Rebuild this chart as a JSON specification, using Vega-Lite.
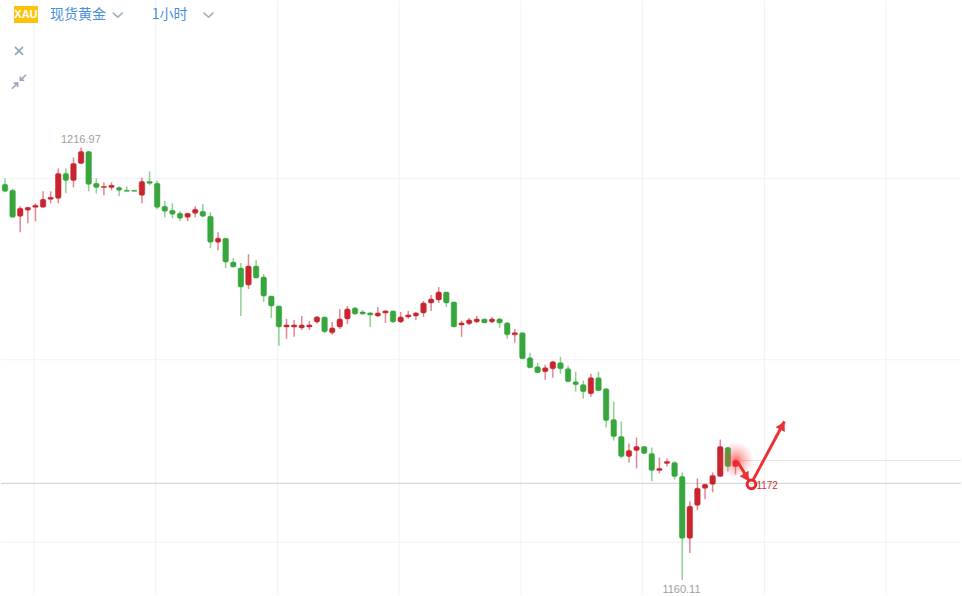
{
  "$schema": "https://vega.github.io/schema/vega-lite/v6.json",
  "description": "XAU spot gold 1 hour candlesticks with hand drawn arrow",
  "autosize": {"type": "fit", "contains": "padding"},
  "width": 962,
  "height": 596,
  "padding": 0,
  "background": "white",
  "view": {"stroke": null},
  "config": {"scale": {"continuousPadding": 0}},
  "datasets": {
    "candles": [
      {"i":0,"o":1212.13,"c":1211.21,"h":1212.91,"l":1211.08},
      {"i":1,"o":1211.34,"c":1207.80,"h":1211.60,"l":1207.80},
      {"i":2,"o":1207.93,"c":1208.98,"h":1209.24,"l":1205.84},
      {"i":3,"o":1208.72,"c":1209.11,"h":1209.11,"l":1207.02},
      {"i":4,"o":1209.11,"c":1209.37,"h":1209.64,"l":1207.28},
      {"i":5,"o":1209.11,"c":1210.16,"h":1211.21,"l":1209.11},
      {"i":6,"o":1210.16,"c":1210.42,"h":1211.21,"l":1209.64},
      {"i":7,"o":1210.29,"c":1213.57,"h":1214.22,"l":1209.64},
      {"i":8,"o":1213.57,"c":1212.65,"h":1214.22,"l":1210.95},
      {"i":9,"o":1212.65,"c":1214.88,"h":1215.66,"l":1211.73},
      {"i":10,"o":1214.88,"c":1216.45,"h":1216.97,"l":1214.88},
      {"i":11,"o":1216.45,"c":1212.13,"h":1216.45,"l":1211.21},
      {"i":12,"o":1212.26,"c":1211.73,"h":1212.91,"l":1210.95},
      {"i":13,"o":1211.73,"c":1211.86,"h":1212.39,"l":1210.69},
      {"i":14,"o":1211.73,"c":1212.00,"h":1212.39,"l":1211.34},
      {"i":15,"o":1211.73,"c":1211.34,"h":1211.86,"l":1210.55},
      {"i":16,"o":1211.34,"c":1211.21,"h":1211.86,"l":1211.21},
      {"i":17,"o":1211.34,"c":1211.21,"h":1211.34,"l":1211.21},
      {"i":18,"o":1210.69,"c":1212.52,"h":1213.04,"l":1209.64},
      {"i":19,"o":1212.52,"c":1212.26,"h":1213.83,"l":1212.00},
      {"i":20,"o":1212.26,"c":1209.11,"h":1212.65,"l":1208.85},
      {"i":21,"o":1209.24,"c":1208.59,"h":1209.90,"l":1207.80},
      {"i":22,"o":1208.72,"c":1208.20,"h":1209.64,"l":1207.67},
      {"i":23,"o":1208.33,"c":1207.67,"h":1208.59,"l":1207.28},
      {"i":24,"o":1207.80,"c":1208.33,"h":1208.33,"l":1207.28},
      {"i":25,"o":1208.33,"c":1208.85,"h":1209.24,"l":1207.80},
      {"i":26,"o":1208.59,"c":1207.93,"h":1209.51,"l":1207.80},
      {"i":27,"o":1207.93,"c":1204.53,"h":1208.46,"l":1203.74},
      {"i":28,"o":1204.53,"c":1205.05,"h":1205.84,"l":1203.48},
      {"i":29,"o":1205.05,"c":1201.91,"h":1205.05,"l":1201.12},
      {"i":30,"o":1201.91,"c":1201.25,"h":1202.43,"l":1201.25},
      {"i":31,"o":1201.12,"c":1198.63,"h":1201.78,"l":1194.83},
      {"i":32,"o":1198.90,"c":1201.38,"h":1202.96,"l":1198.37},
      {"i":33,"o":1201.38,"c":1199.81,"h":1202.17,"l":1199.81},
      {"i":34,"o":1199.94,"c":1197.45,"h":1200.34,"l":1196.67},
      {"i":35,"o":1197.45,"c":1196.14,"h":1197.45,"l":1194.57},
      {"i":36,"o":1196.14,"c":1193.39,"h":1196.14,"l":1190.90},
      {"i":37,"o":1193.39,"c":1193.65,"h":1194.44,"l":1191.82},
      {"i":38,"o":1193.39,"c":1193.65,"h":1194.31,"l":1192.08},
      {"i":39,"o":1193.26,"c":1193.65,"h":1194.83,"l":1193.00},
      {"i":40,"o":1193.39,"c":1193.65,"h":1194.18,"l":1193.00},
      {"i":41,"o":1194.05,"c":1194.70,"h":1194.83,"l":1193.79},
      {"i":42,"o":1194.70,"c":1192.74,"h":1194.70,"l":1192.61},
      {"i":43,"o":1192.61,"c":1193.26,"h":1194.05,"l":1192.35},
      {"i":44,"o":1193.39,"c":1194.44,"h":1195.75,"l":1193.13},
      {"i":45,"o":1194.44,"c":1195.75,"h":1196.14,"l":1193.79},
      {"i":46,"o":1195.88,"c":1195.10,"h":1196.01,"l":1194.97},
      {"i":47,"o":1195.36,"c":1195.10,"h":1195.62,"l":1194.97},
      {"i":48,"o":1195.23,"c":1194.97,"h":1195.36,"l":1193.39},
      {"i":49,"o":1194.83,"c":1195.23,"h":1196.01,"l":1194.70},
      {"i":50,"o":1195.23,"c":1195.49,"h":1195.62,"l":1193.92},
      {"i":51,"o":1195.49,"c":1194.05,"h":1195.49,"l":1193.92},
      {"i":52,"o":1194.05,"c":1194.70,"h":1195.36,"l":1193.92},
      {"i":53,"o":1194.70,"c":1194.97,"h":1195.49,"l":1194.44},
      {"i":54,"o":1194.83,"c":1195.23,"h":1195.36,"l":1194.31},
      {"i":55,"o":1195.23,"c":1196.54,"h":1196.80,"l":1194.70},
      {"i":56,"o":1196.54,"c":1197.06,"h":1197.59,"l":1195.49},
      {"i":57,"o":1196.93,"c":1197.98,"h":1198.63,"l":1196.54},
      {"i":58,"o":1197.98,"c":1196.54,"h":1197.98,"l":1196.01},
      {"i":59,"o":1196.67,"c":1193.39,"h":1196.67,"l":1193.39},
      {"i":60,"o":1193.65,"c":1193.92,"h":1194.18,"l":1192.08},
      {"i":61,"o":1193.79,"c":1194.31,"h":1194.57,"l":1193.65},
      {"i":62,"o":1194.05,"c":1194.44,"h":1194.83,"l":1193.92},
      {"i":63,"o":1194.44,"c":1193.92,"h":1194.44,"l":1193.92},
      {"i":64,"o":1194.05,"c":1194.44,"h":1194.70,"l":1193.92},
      {"i":65,"o":1194.44,"c":1193.92,"h":1194.57,"l":1193.26},
      {"i":66,"o":1193.92,"c":1192.35,"h":1194.05,"l":1191.82},
      {"i":67,"o":1192.35,"c":1192.61,"h":1193.13,"l":1191.30},
      {"i":68,"o":1192.61,"c":1189.20,"h":1192.61,"l":1189.20},
      {"i":69,"o":1189.33,"c":1188.02,"h":1189.99,"l":1188.02},
      {"i":70,"o":1188.15,"c":1187.37,"h":1188.68,"l":1187.37},
      {"i":71,"o":1187.50,"c":1188.02,"h":1188.42,"l":1186.45},
      {"i":72,"o":1187.89,"c":1188.81,"h":1188.94,"l":1186.71},
      {"i":73,"o":1188.68,"c":1187.89,"h":1189.46,"l":1187.24},
      {"i":74,"o":1187.89,"c":1186.19,"h":1188.28,"l":1186.19},
      {"i":75,"o":1186.19,"c":1185.80,"h":1187.50,"l":1184.88},
      {"i":76,"o":1185.80,"c":1184.88,"h":1186.32,"l":1183.96},
      {"i":77,"o":1184.62,"c":1186.71,"h":1187.24,"l":1184.22},
      {"i":78,"o":1186.71,"c":1185.01,"h":1187.50,"l":1185.01},
      {"i":79,"o":1185.27,"c":1181.08,"h":1185.27,"l":1180.16},
      {"i":80,"o":1181.21,"c":1178.98,"h":1183.57,"l":1178.46},
      {"i":81,"o":1178.98,"c":1176.36,"h":1180.95,"l":1176.10},
      {"i":82,"o":1176.36,"c":1177.15,"h":1178.07,"l":1175.58},
      {"i":83,"o":1177.15,"c":1177.67,"h":1178.85,"l":1174.79},
      {"i":84,"o":1177.67,"c":1176.76,"h":1177.67,"l":1176.76},
      {"i":85,"o":1176.76,"c":1174.53,"h":1177.54,"l":1173.09},
      {"i":86,"o":1174.53,"c":1174.79,"h":1176.23,"l":1174.14},
      {"i":87,"o":1175.45,"c":1175.71,"h":1176.10,"l":1175.05},
      {"i":88,"o":1175.58,"c":1173.74,"h":1175.71,"l":1173.35},
      {"i":89,"o":1173.74,"c":1165.62,"h":1174.27,"l":1160.11},
      {"i":90,"o":1165.62,"c":1169.81,"h":1170.47,"l":1163.66},
      {"i":91,"o":1169.94,"c":1172.17,"h":1173.48,"l":1169.29},
      {"i":92,"o":1172.17,"c":1172.70,"h":1172.70,"l":1170.73},
      {"i":93,"o":1172.70,"c":1173.87,"h":1174.27,"l":1171.65},
      {"i":94,"o":1173.74,"c":1177.67,"h":1178.59,"l":1173.74},
      {"i":95,"o":1177.54,"c":1175.05,"h":1177.54,"l":1174.40},
      {"i":96,"o":1175.05,"c":1175.84,"h":1175.97,"l":1174.00}
    ],
    "vgrid": [{"i":3.8},{"i":19.8},{"i":35.8},{"i":51.8},{"i":67.8},{"i":83.8},{"i":99.8},{"i":115.8}],
    "hgrid": [{"p":1212.91},{"p":1189.07},{"p":1165.09}],
    "arrow1": [{"i":96.26,"p":1175.71},{"i":97.84,"p":1173.09}],
    "arrow2": [{"i":98.36,"p":1173.35},{"i":102.43,"p":1180.95}]
  },
  "layer": [
    {
      "data": {"name": "vgrid"},
      "mark": {"type": "rule", "color": "#f1f2f4", "strokeWidth": 1},
      "encoding": {
        "x": {"field": "i", "type": "quantitative", "axis": null, "scale": {"domain": [-0.525, 125.64]}}
      }
    },
    {
      "data": {"name": "hgrid"},
      "mark": {"type": "rule", "color": "#f1f2f4", "strokeWidth": 1},
      "encoding": {
        "y": {"field": "p", "type": "quantitative", "axis": null, "scale": {"domain": [1158.15, 1236.23]}}
      }
    },
    {
      "data": {"values": [{"p": 1175.84, "i": 96, "i2": 125.64}]},
      "mark": {"type": "rule", "color": "#e2e2e2", "strokeWidth": 1},
      "encoding": {
        "x": {"field": "i", "type": "quantitative", "axis": null, "scale": {"domain": [-0.525, 125.64]}},
        "x2": {"field": "i2"},
        "y": {"field": "p", "type": "quantitative", "axis": null, "scale": {"domain": [1158.15, 1236.23]}}
      }
    },
    {
      "data": {"values": [{"p": 1172.83}]},
      "mark": {"type": "rule", "color": "#cfcfcf", "strokeWidth": 1},
      "encoding": {
        "y": {"field": "p", "type": "quantitative", "axis": null, "scale": {"domain": [1158.15, 1236.23]}}
      }
    },
    {
      "data": {"name": "candles"},
      "mark": {"type": "rule", "strokeWidth": 1.5, "opacity": 0.55},
      "encoding": {
        "x": {"field": "i", "type": "quantitative", "axis": null, "scale": {"domain": [-0.525, 125.64]}},
        "y": {"field": "h", "type": "quantitative", "axis": null, "scale": {"domain": [1158.15, 1236.23]}},
        "y2": {"field": "l"},
        "color": {"condition": {"test": "datum.c > datum.o", "value": "#c9252f"}, "value": "#37a63c"}
      }
    },
    {
      "data": {"name": "candles"},
      "mark": {"type": "bar", "size": 5.5, "cornerRadius": 1.5, "strokeWidth": 0.5},
      "encoding": {
        "x": {"field": "i", "type": "quantitative", "axis": null, "scale": {"domain": [-0.525, 125.64]}},
        "y": {"field": "o", "type": "quantitative", "axis": null, "scale": {"domain": [1158.15, 1236.23]}},
        "y2": {"field": "c"},
        "color": {"condition": {"test": "datum.c > datum.o", "value": "#c9252f"}, "value": "#37a63c"},
        "stroke": {"condition": {"test": "datum.c > datum.o", "value": "#c9252f"}, "value": "#37a63c"}
      }
    },
    {
      "data": {"values": [{"i": 96.1, "p": 1175.9}]},
      "mark": {
        "type": "point",
        "shape": "circle",
        "filled": true,
        "opacity": 1,
        "size": 1300,
        "fill": {
          "gradient": "radial",
          "stops": [
            {"offset": 0, "color": "rgba(255,40,40,0.7)"},
            {"offset": 0.35, "color": "rgba(255,60,60,0.4)"},
            {"offset": 1, "color": "rgba(255,100,100,0)"}
          ]
        }
      },
      "encoding": {
        "x": {"field": "i", "type": "quantitative", "axis": null, "scale": {"domain": [-0.525, 125.64]}},
        "y": {"field": "p", "type": "quantitative", "axis": null, "scale": {"domain": [1158.15, 1236.23]}}
      }
    },
    {
      "data": {"name": "arrow1"},
      "mark": {"type": "line", "color": "#ea3335", "strokeWidth": 3},
      "encoding": {
        "x": {"field": "i", "type": "quantitative", "axis": null, "scale": {"domain": [-0.525, 125.64]}},
        "y": {"field": "p", "type": "quantitative", "axis": null, "scale": {"domain": [1158.15, 1236.23]}}
      }
    },
    {
      "data": {"name": "arrow2"},
      "mark": {"type": "line", "color": "#ea3335", "strokeWidth": 3},
      "encoding": {
        "x": {"field": "i", "type": "quantitative", "axis": null, "scale": {"domain": [-0.525, 125.64]}},
        "y": {"field": "p", "type": "quantitative", "axis": null, "scale": {"domain": [1158.15, 1236.23]}}
      }
    },
    {
      "data": {"values": [{"i": 97.44, "p": 1173.61}]},
      "mark": {"type": "point", "shape": "triangle-up", "filled": true, "opacity": 1, "color": "#ea3335", "size": 110, "angle": 149},
      "encoding": {
        "x": {"field": "i", "type": "quantitative", "axis": null, "scale": {"domain": [-0.525, 125.64]}},
        "y": {"field": "p", "type": "quantitative", "axis": null, "scale": {"domain": [1158.15, 1236.23]}}
      }
    },
    {
      "data": {"values": [{"i": 102.16, "p": 1180.42}]},
      "mark": {"type": "point", "shape": "triangle-up", "filled": true, "opacity": 1, "color": "#ea3335", "size": 110, "angle": 28},
      "encoding": {
        "x": {"field": "i", "type": "quantitative", "axis": null, "scale": {"domain": [-0.525, 125.64]}},
        "y": {"field": "p", "type": "quantitative", "axis": null, "scale": {"domain": [1158.15, 1236.23]}}
      }
    },
    {
      "data": {"values": [{"i": 98.1, "p": 1172.7}]},
      "mark": {"type": "point", "shape": "circle", "filled": false, "opacity": 1, "color": "#e02a30", "strokeWidth": 3, "size": 75},
      "encoding": {
        "x": {"field": "i", "type": "quantitative", "axis": null, "scale": {"domain": [-0.525, 125.64]}},
        "y": {"field": "p", "type": "quantitative", "axis": null, "scale": {"domain": [1158.15, 1236.23]}}
      }
    },
    {
      "data": {"values": [{"i": 98.75, "p": 1172.43, "t": "1172"}]},
      "mark": {"type": "text", "align": "left", "baseline": "middle", "color": "#d0353b", "fontSize": 10, "font": "Liberation Sans"},
      "encoding": {
        "x": {"field": "i", "type": "quantitative", "axis": null, "scale": {"domain": [-0.525, 125.64]}},
        "y": {"field": "p", "type": "quantitative", "axis": null, "scale": {"domain": [1158.15, 1236.23]}},
        "text": {"field": "t"}
      }
    },
    {
      "data": {"values": [{"i": 9.97, "p": 1218.02, "t": "1216.97"}, {"i": 88.9, "p": 1158.85, "t": "1160.11"}]},
      "mark": {"type": "text", "align": "center", "baseline": "middle", "color": "#a0a0a0", "fontSize": 11, "font": "Liberation Sans"},
      "encoding": {
        "x": {"field": "i", "type": "quantitative", "axis": null, "scale": {"domain": [-0.525, 125.64]}},
        "y": {"field": "p", "type": "quantitative", "axis": null, "scale": {"domain": [1158.15, 1236.23]}},
        "text": {"field": "t"}
      }
    },
    {
      "data": {"values": [{"i": 1.18, "i2": 4.33, "p": 1235.57, "p2": 1233.35}]},
      "mark": {"type": "rect", "color": "#fdc30a"},
      "encoding": {
        "x": {"field": "i", "type": "quantitative", "axis": null, "scale": {"domain": [-0.525, 125.64]}},
        "x2": {"field": "i2"},
        "y": {"field": "p", "type": "quantitative", "axis": null, "scale": {"domain": [1158.15, 1236.23]}},
        "y2": {"field": "p2"}
      }
    },
    {
      "data": {"values": [{"i": 2.75, "p": 1234.4, "t": "XAU"}]},
      "mark": {"type": "text", "align": "center", "baseline": "middle", "color": "white", "fontSize": 11, "fontWeight": "bold", "font": "Liberation Sans"},
      "encoding": {
        "x": {"field": "i", "type": "quantitative", "axis": null, "scale": {"domain": [-0.525, 125.64]}},
        "y": {"field": "p", "type": "quantitative", "axis": null, "scale": {"domain": [1158.15, 1236.23]}},
        "text": {"field": "t"}
      }
    },
    {
      "data": {"values": [{"i": 5.9, "p": 1234.4, "t": "现货黄金"}, {"i": 19.28, "p": 1234.4, "t": "1小时"}]},
      "mark": {"type": "text", "align": "left", "baseline": "middle", "color": "#4a8fdb", "fontSize": 14, "font": "Noto Sans CJK SC"},
      "encoding": {
        "x": {"field": "i", "type": "quantitative", "axis": null, "scale": {"domain": [-0.525, 125.64]}},
        "y": {"field": "p", "type": "quantitative", "axis": null, "scale": {"domain": [1158.15, 1236.23]}},
        "text": {"field": "t"}
      }
    },
    {
      "data": {"values": [{"i": 14.82, "p": 1234.4}, {"i": 26.75, "p": 1234.4}]},
      "mark": {"type": "point", "shape": "M-1,-0.45L0,0.45L1,-0.45", "filled": false, "opacity": 1, "color": "#9fb0c6", "strokeWidth": 1.5, "size": 100},
      "encoding": {
        "x": {"field": "i", "type": "quantitative", "axis": null, "scale": {"domain": [-0.525, 125.64]}},
        "y": {"field": "p", "type": "quantitative", "axis": null, "scale": {"domain": [1158.15, 1236.23]}}
      }
    },
    {
      "data": {"values": [{"i": 1.84, "p": 1229.68}]},
      "mark": {"type": "point", "shape": "M-1,-1L1,1M-1,1L1,-1", "filled": false, "opacity": 1, "color": "#98a2b8", "strokeWidth": 1.6, "size": 64},
      "encoding": {
        "x": {"field": "i", "type": "quantitative", "axis": null, "scale": {"domain": [-0.525, 125.64]}},
        "y": {"field": "p", "type": "quantitative", "axis": null, "scale": {"domain": [1158.15, 1236.23]}}
      }
    },
    {
      "data": {"values": [{"i": 1.84, "p": 1225.62}]},
      "mark": {"type": "point", "shape": "M-1,1L-0.2,0.2M-0.75,0.2L-0.2,0.2L-0.2,0.75M1,-1L0.2,-0.2M0.75,-0.2L0.2,-0.2L0.2,-0.75", "filled": false, "opacity": 1, "color": "#a0a3bd", "strokeWidth": 1.6, "size": 196},
      "encoding": {
        "x": {"field": "i", "type": "quantitative", "axis": null, "scale": {"domain": [-0.525, 125.64]}},
        "y": {"field": "p", "type": "quantitative", "axis": null, "scale": {"domain": [1158.15, 1236.23]}}
      }
    }
  ]
}
